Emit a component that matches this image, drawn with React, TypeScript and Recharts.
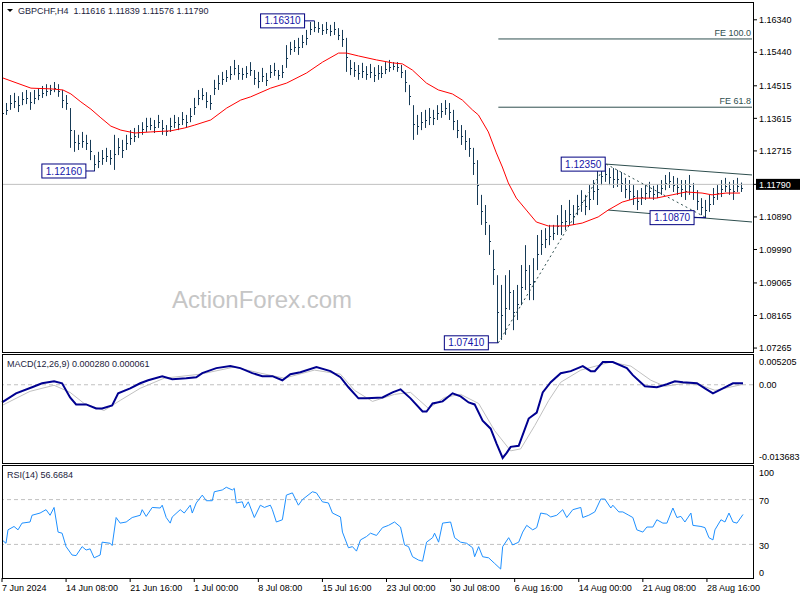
import React from "react";
import {
  Bar,
  ComposedChart,
  Line,
  ReferenceDot,
  ReferenceLine,
  XAxis,
  YAxis,
} from "recharts";

// H4 slots across the window (2px each); bars were read one per two slots
const SLOTS = 376;

const DATE_LABELS = [
  "7 Jun 2024", "14 Jun 08:00", "21 Jun 16:00", "1 Jul 00:00", "8 Jul 08:00", "15 Jul 16:00",
  "23 Jul 00:00", "30 Jul 08:00", "6 Aug 16:00", "14 Aug 00:00", "21 Aug 08:00", "28 Aug 16:00",
];

const BAR_HIGH = [
  1.1390, 1.1404, 1.1426, 1.1432, 1.1423, 1.1434, 1.1440, 1.1434, 1.1440, 1.1445,
  1.1451, 1.1456, 1.1454, 1.1462, 1.1456, 1.1440, 1.1426, 1.1390, 1.1329, 1.1316,
  1.1324, 1.1316, 1.1302, 1.1260, 1.1269, 1.1274, 1.1280, 1.1274, 1.1316, 1.1307,
  1.1302, 1.1316, 1.1329, 1.1335, 1.1343, 1.1351, 1.1363, 1.1363, 1.1357, 1.1371,
  1.1357, 1.1343, 1.1363, 1.1371, 1.1365, 1.1379, 1.1371, 1.1390, 1.1418, 1.1440,
  1.1445, 1.1434, 1.1426, 1.1468, 1.1481, 1.1490, 1.1495, 1.1506, 1.1523, 1.1509,
  1.1501, 1.1506, 1.1517, 1.1495, 1.1490, 1.1501, 1.1487, 1.1509, 1.1515, 1.1495,
  1.1509, 1.1564, 1.1573, 1.1578, 1.1584, 1.1592, 1.1606, 1.1628, 1.1631, 1.1628,
  1.1622, 1.1628, 1.1620, 1.1628, 1.1611, 1.1606, 1.1584, 1.1523, 1.1517, 1.1509,
  1.1515, 1.1506, 1.1512, 1.1503, 1.1509, 1.1506, 1.1517, 1.1523, 1.1517, 1.1517,
  1.1509, 1.1495, 1.1454, 1.1398, 1.1371, 1.1379, 1.1385, 1.1390, 1.1385, 1.1398,
  1.1404, 1.1412, 1.1404, 1.1385, 1.1357, 1.1343, 1.1329, 1.1307, 1.1280, 1.1246,
  1.1150, 1.1122, 1.1067, 1.0998, 1.0928, 1.0901, 1.0928, 1.0942, 1.0887, 1.0901,
  1.0956, 1.1011, 1.0956, 1.0975, 1.1039, 1.1053, 1.1058, 1.1067, 1.1067, 1.1094,
  1.1122, 1.1108, 1.1136, 1.1122, 1.1150, 1.1163, 1.1150, 1.1177, 1.1191, 1.1219,
  1.1230, 1.1235, 1.1224, 1.1224, 1.1219, 1.1213, 1.1197, 1.1191, 1.1177, 1.1163,
  1.1169, 1.1177, 1.1186, 1.1175, 1.1180, 1.1191, 1.1205, 1.1213, 1.1202, 1.1197,
  1.1191, 1.1191, 1.1205, 1.1183, 1.1163, 1.1141, 1.1136, 1.1150, 1.1169, 1.1177,
  1.1191, 1.1197, 1.1186, 1.1191, 1.1197, 1.1184,
];

const BAR_LOW = [
  1.1365, 1.1371, 1.1385, 1.1390, 1.1379, 1.1398, 1.1401, 1.1385, 1.1401, 1.1412,
  1.1418, 1.1423, 1.1426, 1.1434, 1.1421, 1.1390, 1.1385, 1.1280, 1.1269, 1.1274,
  1.1280, 1.1274, 1.1246, 1.1216, 1.1224, 1.1233, 1.1241, 1.1233, 1.1219, 1.1260,
  1.1252, 1.1274, 1.1288, 1.1296, 1.1307, 1.1316, 1.1324, 1.1329, 1.1321, 1.1335,
  1.1316, 1.1313, 1.1324, 1.1335, 1.1329, 1.1343, 1.1335, 1.1351, 1.1371, 1.1398,
  1.1412, 1.1390, 1.1385, 1.1426, 1.1440, 1.1454, 1.1462, 1.1468, 1.1481, 1.1468,
  1.1468, 1.1473, 1.1479, 1.1454, 1.1445, 1.1462, 1.1451, 1.1473, 1.1479, 1.1468,
  1.1473, 1.1501, 1.1537, 1.1545, 1.1537, 1.1556, 1.1564, 1.1592, 1.1600, 1.1598,
  1.1592, 1.1595, 1.1589, 1.1592, 1.1578, 1.1559, 1.1490, 1.1481, 1.1476, 1.1468,
  1.1473, 1.1468, 1.1473, 1.1462, 1.1468, 1.1473, 1.1484, 1.1490, 1.1495, 1.1490,
  1.1473, 1.1434, 1.1398, 1.1302, 1.1316, 1.1329, 1.1335, 1.1343, 1.1343, 1.1357,
  1.1363, 1.1371, 1.1357, 1.1329, 1.1307, 1.1288, 1.1274, 1.1255, 1.1205, 1.1122,
  1.1067, 1.1039, 1.0984, 1.0901, 1.0741, 1.0749, 1.0763, 1.0832, 1.0776, 1.0804,
  1.0845, 1.0887, 1.0859, 1.0859, 1.0942, 1.0984, 1.1003, 1.1011, 1.1025, 1.1039,
  1.1039, 1.1053, 1.1067, 1.1067, 1.1094, 1.1103, 1.1094, 1.1108, 1.1136, 1.1122,
  1.1177, 1.1186, 1.1177, 1.1169, 1.1172, 1.1158, 1.1141, 1.1136, 1.1122, 1.1108,
  1.1122, 1.1136, 1.1141, 1.1136, 1.1141, 1.1150, 1.1163, 1.1169, 1.1158, 1.1150,
  1.1144, 1.1136, 1.1150, 1.1136, 1.1108, 1.1094, 1.1087, 1.1103, 1.1122, 1.1136,
  1.1144, 1.1158, 1.1150, 1.1136, 1.1158, 1.1158,
];

// [slot, value]
const MA = [
  [0, 1.1473], [14, 1.1445], [24, 1.1443], [30, 1.1440], [34, 1.1429], [39, 1.1407],
  [44, 1.1387], [49, 1.1363], [54, 1.1340], [59, 1.1329], [66, 1.1321], [74, 1.1324],
  [84, 1.1327], [91, 1.1335], [96, 1.1343], [104, 1.1357], [112, 1.1390], [119, 1.1412],
  [124, 1.1421], [134, 1.1445], [142, 1.1459], [152, 1.1487], [160, 1.1517], [168, 1.1542],
  [172, 1.1542], [178, 1.1534], [187, 1.1523], [195, 1.1515], [200, 1.1512], [205, 1.1495],
  [212, 1.1459], [218, 1.1440], [225, 1.1429], [230, 1.1412], [235, 1.1385], [238, 1.1371],
  [243, 1.1324], [247, 1.1266], [250, 1.1227], [253, 1.1183], [257, 1.1141], [262, 1.1108],
  [267, 1.1075], [273, 1.1064], [282, 1.1064], [287, 1.1069], [290, 1.1072], [298, 1.1089],
  [303, 1.1108], [310, 1.1130], [317, 1.1141], [327, 1.1141], [335, 1.1150], [342, 1.1158],
  [350, 1.1155], [355, 1.1150], [362, 1.1155], [369, 1.1155],
];

const MACD_MAIN = [
  [0, -0.00309], [7, -0.0015], [15, -0.00044], [20, 0.00026], [26, 0.00062], [30, 0.00026],
  [34, -0.00221], [37, -0.00344], [42, -0.00344], [47, -0.00415], [50, -0.00415], [55, -0.00362],
  [58, -0.0015], [64, -0.00062], [69, 0.00026], [73, 0.00079], [80, 0.0015], [85, 0.00097],
  [92, 0.00115], [97, 0.00132], [100, 0.00203], [107, 0.00291], [114, 0.00326], [119, 0.00291],
  [125, 0.00203], [130, 0.0015], [135, 0.0015], [140, 0.00079], [144, 0.00185], [149, 0.0022],
  [157, 0.00309], [164, 0.00238], [169, 0.00132], [173, -0.00044], [178, -0.00238], [182, -0.00238],
  [190, -0.00221], [195, -0.00133], [199, -0.0008], [204, -0.00238], [210, -0.00468], [212, -0.00468],
  [215, -0.00327], [220, -0.00291], [225, -0.0015], [229, -0.00203], [233, -0.00309], [236, -0.00344],
  [240, -0.00627], [244, -0.00768], [247, -0.01033], [250, -0.0128], [252, -0.01192], [254, -0.01086],
  [258, -0.01068], [263, -0.00591], [267, -0.00486], [270, -0.00133], [274, 0.00044], [279, 0.00203],
  [284, 0.00238], [290, 0.00326], [294, 0.00238], [296, 0.00238], [300, 0.00397], [305, 0.00397],
  [312, 0.00291], [315, 0.00168], [321, -0.00027], [327, -0.00044], [332, 0.00009], [336, 0.00062],
  [340, 0.00044], [347, 0.00026], [351, -0.00062], [355, -0.0015], [360, -0.00062], [365, 0.00026],
  [370, 0.00028],
];

const MACD_SIGNAL = [
  [0, -0.00362], [14, -0.00115], [26, -0.00009], [34, -0.00133], [41, -0.00327], [51, -0.0045],
  [59, -0.00274], [69, -0.00062], [81, 0.00115], [99, 0.00185], [116, 0.00309], [129, 0.00203],
  [141, 0.00115], [156, 0.00256], [169, 0.00185], [176, -0.00097], [185, -0.00291], [196, -0.00168],
  [204, -0.00133], [213, -0.00415], [221, -0.00221], [229, -0.00168], [238, -0.00327], [246, -0.00803],
  [254, -0.01156], [259, -0.01121], [266, -0.00715], [273, -0.00274], [279, 0.00044], [289, 0.00256],
  [304, 0.00397], [314, 0.00326], [324, 0.00079], [331, -0.00027], [341, 0.00026], [349, -0.00009],
  [356, -0.00097], [370, 0.00006],
];

const RSI = [
  [0, 34], [2, 31], [3, 43], [6, 46], [8, 43], [10, 49], [14, 50], [15, 56], [19, 58], [22, 61],
  [24, 56], [26, 63], [28, 41], [30, 40], [32, 28], [35, 20.5], [37, 20], [40, 28], [42, 25], [44, 26],
  [46, 18], [49, 20.5], [50, 32], [54, 31], [55, 29], [57, 54], [59, 49], [62, 50], [65, 54], [69, 56],
  [70, 61], [72, 55], [75, 63], [79, 62.5], [80, 65], [82, 54], [84, 49], [85, 54.5], [89, 61], [91, 58],
  [94, 65], [95, 58], [97, 67], [100, 74], [102, 69], [105, 69], [106, 77], [110, 78.6], [112, 81], [115, 78.6],
  [116, 80], [117, 67], [120, 68], [121, 62.5], [123, 68], [126, 54], [129, 65], [131, 63], [134, 65], [135, 61],
  [137, 50], [140, 52], [142, 74], [145, 76], [148, 65], [150, 70], [155, 77], [157, 76], [160, 68], [163, 67],
  [165, 58], [169, 54.5], [170, 41], [173, 27], [175, 28], [177, 24], [179, 34], [182, 37], [184, 40], [187, 38],
  [190, 45], [193, 47], [196, 50], [199, 45.5], [201, 29.5], [203, 28], [205, 19], [208, 16], [210, 15], [212, 32],
  [215, 36], [216, 40], [218, 32], [220, 49], [224, 50], [226, 36], [229, 32], [232, 31], [235, 27], [236, 19],
  [238, 28], [240, 19], [243, 18], [246, 13], [249, 8], [250, 28], [253, 36], [255, 29.5], [258, 32], [260, 41],
  [262, 47], [265, 43], [267, 45], [269, 58], [272, 57], [274, 54.5], [277, 56], [280, 61], [282, 54], [285, 61],
  [289, 63], [290, 54], [293, 56], [296, 59], [299, 70.5], [301, 70.5], [304, 62.5], [305, 65], [308, 59], [310, 59],
  [313, 56], [315, 54], [317, 43], [320, 41], [322, 45.5], [325, 45.5], [327, 52], [330, 49], [332, 49], [335, 62.5],
  [337, 54], [339, 55], [341, 50], [344, 58], [345, 47], [349, 46], [351, 45], [353, 36], [355, 34], [356, 43],
  [359, 52], [361, 50], [363, 58], [365, 50], [367, 49], [370, 56.7],
];

const PRICE_TICKS = [
  1.07265, 1.08165, 1.09065, 1.0999, 1.1089, 1.1179, 1.12715, 1.13615, 1.14515, 1.1544, 1.1634,
];
const LAST_PRICE = 1.1179;
const MACD_TICKS = [-0.013683, 0, 0.005205];
const RSI_TICKS = [0, 30, 70, 100];

// swing tags [slot, price]
const TAGS = [[46, 1.1216], [156, 1.1631], [248, 1.0741], [302, 1.1235], [352, 1.1087]];
// fibonacci expansion A -> B -> C, projected levels
const FIB_A = [248, 1.0741];
const FIB_B = [302, 1.1235];
const FIB_C = [352, 1.1087];
const FE_LEVELS = [[1.1581, "FE 100.0"], [1.13923, "FE 61.8"]];
const CHANNEL_TOP = [[302, 1.1235], [375, 1.1205]];
const CHANNEL_BOTTOM = [[303, 1.1108], [375, 1.1075]];

const INK = "#163a56";
const FIB = "#2f4f4f";
const TAG_BLUE = "#000080";
const FONT = '"Liberation Sans", Arial, sans-serif';
const TAG_GAP = [9, 10, 10, 1, 12];

type Row = {
  i: number;
  bar?: [number, number];
  ma?: number;
  macd?: number;
  signal?: number;
  rsi?: number;
};

const rows: Row[] = Array.from({ length: SLOTS }, (_, i) => ({ i }));
BAR_HIGH.forEach((h, k) => {
  rows[2 * k].bar = [BAR_LOW[k], h];
});
const put = (pairs: number[][], key: keyof Row) =>
  pairs.forEach(([i, v]) => {
    (rows[i] as any)[key] = v;
  });
put(MA, "ma");
put(MACD_MAIN, "macd");
put(MACD_SIGNAL, "signal");
put(RSI, "rsi");

// thin stick with a one-pixel foot, like the terminal's bar style
const BarStick = (p: any) => {
  if (!p.payload || !p.payload.bar) return <g />;
  const x = Math.round(p.x);
  const h = Math.abs(p.height);
  return (
    <g>
      <rect x={x} y={p.y} width={1} height={h} fill={INK} />
      <rect x={x + 1} y={Math.round(p.y + h * 0.55)} width={1} height={1} fill={INK} />
    </g>
  );
};

function PriceTick(p: any) {
  const v = p.payload.value;
  if (Math.abs(v - LAST_PRICE) < 1e-9) {
    return (
      <g>
        <rect x={p.x - 3} y={p.y - 5.5} width={50} height={11} fill="#000" />
        <text x={p.x} y={p.y} dy="0.35em" fill="#fff" fontSize={9} fontFamily={FONT}>
          {v.toFixed(5)}
        </text>
      </g>
    );
  }
  return (
    <text x={p.x} y={p.y} dy="0.35em" fill="#000" fontSize={9} fontFamily={FONT}>
      {v.toFixed(5)}
    </text>
  );
}

function MacdTick(p: any) {
  const v = p.payload.value;
  const dy = v > 0 ? 7 : v < 0 ? -6 : 0;
  return (
    <text x={p.x} y={p.y + dy} dy="0.35em" fill="#000" fontSize={9} fontFamily={FONT}>
      {v === 0 ? "0.00" : v.toFixed(6)}
    </text>
  );
}

function RsiTick(p: any) {
  const v = p.payload.value;
  const dy = v === 100 ? 7 : v === 0 ? -5 : 1;
  return (
    <text x={p.x} y={p.y + dy} dy="0.35em" fill="#000" fontSize={9} fontFamily={FONT}>
      {v}
    </text>
  );
}

function DateTick(p: any) {
  return (
    <text x={p.x} y={p.y + 7} textAnchor="start" fill="#000" fontSize={9} fontFamily={FONT}>
      {DATE_LABELS[Math.round(p.payload.value / 32)]}
    </text>
  );
}

function Tag({ cx, cy, text, gap }: any) {
  const w = 44;
  const h = 14;
  const right = cx - gap;
  return (
    <g>
      <line x1={right} y1={cy} x2={cx} y2={cy} stroke={TAG_BLUE} />
      <rect x={right - w} y={cy - h / 2} width={w} height={h} fill="#fff" stroke={TAG_BLUE} />
      <text x={right - w / 2} y={cy} dy="0.36em" textAnchor="middle" fontSize={10} fill="#1414a8" fontFamily={FONT}>
        {text}
      </text>
    </g>
  );
}

export default function App() {
  return (
    <div style={{ position: "absolute", left: 0, top: 0, width: 800, height: 600, background: "#fff", overflow: "hidden" }}>
      <svg width={800} height={600} style={{ position: "absolute", left: 0, top: 0 }}>
        <text x={172} y={308} fontSize={24} fill="#c6c6c6" fontFamily={FONT}>
          ActionForex.com
        </text>
      </svg>

      <div style={{ position: "absolute", left: 0, top: 0 }}>
        <ComposedChart width={800} height={352} data={rows} margin={{ top: 3, right: 0, bottom: 0, left: 2 }}>
          <XAxis dataKey="i" hide />
          <YAxis
            orientation="right"
            width={47}
            type="number"
            domain={[1.07156, 1.16804]}
            allowDataOverflow
            ticks={PRICE_TICKS}
            interval={0}
            axisLine={false}
            tickLine={{ stroke: "#000" }}
            tickSize={4}
            tick={PriceTick}
          />
          <ReferenceLine y={LAST_PRICE} stroke="#c0c0c0" />
          {FE_LEVELS.map(([lvl]) => (
            <ReferenceLine
              key={"fe" + lvl}
              segment={[{ x: FIB_A[0], y: lvl as number }, { x: SLOTS - 1, y: lvl as number }]}
              stroke={FIB}
              ifOverflow="visible"
            />
          ))}
          <ReferenceLine
            segment={[{ x: FIB_A[0], y: FIB_A[1] }, { x: FIB_B[0], y: FIB_B[1] }]}
            stroke={FIB}
            strokeDasharray="2 3"
          />
          <ReferenceLine
            segment={[{ x: FIB_B[0], y: FIB_B[1] }, { x: FIB_C[0], y: FIB_C[1] }]}
            stroke={FIB}
            strokeDasharray="2 3"
          />
          <ReferenceLine
            segment={[{ x: CHANNEL_TOP[0][0], y: CHANNEL_TOP[0][1] }, { x: CHANNEL_TOP[1][0], y: CHANNEL_TOP[1][1] }]}
            stroke={FIB}
          />
          <ReferenceLine
            segment={[{ x: CHANNEL_BOTTOM[0][0], y: CHANNEL_BOTTOM[0][1] }, { x: CHANNEL_BOTTOM[1][0], y: CHANNEL_BOTTOM[1][1] }]}
            stroke={FIB}
          />
          <Bar dataKey="bar" barSize={2} shape={BarStick} isAnimationActive={false} />
          <Line dataKey="ma" stroke="#ff0000" strokeWidth={1} dot={false} connectNulls isAnimationActive={false} />
          {FE_LEVELS.map(([lvl, name]) => (
            <ReferenceDot
              key={"fel" + lvl}
              x={SLOTS - 1}
              y={lvl as number}
              r={0}
              shape={(p: any) => (
                <text x={p.cx - 1} y={p.cy - 3} textAnchor="end" fontSize={9} fill={FIB} fontFamily={FONT}>
                  {name}
                </text>
              )}
            />
          ))}
          {TAGS.map(([slot, price], n) => (
            <ReferenceDot
              key={"tag" + slot}
              x={slot}
              y={price}
              r={0}
              shape={(p: any) => <Tag cx={p.cx} cy={p.cy} gap={TAG_GAP[n]} text={price.toFixed(5)} />}
            />
          ))}
        </ComposedChart>
      </div>

      <div style={{ position: "absolute", left: 0, top: 354 }}>
        <ComposedChart width={800} height={109} data={rows} margin={{ top: 1, right: 0, bottom: 0, left: 2 }}>
          <XAxis dataKey="i" hide />
          <YAxis
            orientation="right"
            width={47}
            type="number"
            domain={[-0.013683, 0.005205]}
            allowDataOverflow
            ticks={MACD_TICKS}
            interval={0}
            axisLine={false}
            tickLine={false}
            tickSize={4}
            tick={MacdTick}
          />
          <ReferenceLine y={0} stroke="#c0c0c0" strokeDasharray="4 3" />
          <Line dataKey="signal" stroke="#c0c0c0" strokeWidth={1} dot={false} connectNulls isAnimationActive={false} />
          <Line dataKey="macd" stroke="#000090" strokeWidth={2} dot={false} connectNulls isAnimationActive={false} />
        </ComposedChart>
      </div>

      <div style={{ position: "absolute", left: 0, top: 465 }}>
        <ComposedChart width={800} height={135} data={rows} margin={{ top: 1, right: 0, bottom: 0, left: 2 }}>
          <XAxis
            dataKey="i"
            interval={31}
            height={22}
            axisLine={false}
            tickLine={{ stroke: "#000" }}
            tickSize={4}
            tick={DateTick}
          />
          <YAxis
            orientation="right"
            width={47}
            type="number"
            domain={[0, 100]}
            ticks={RSI_TICKS}
            interval={0}
            axisLine={false}
            tickLine={false}
            tickSize={4}
            tick={RsiTick}
          />
          <ReferenceLine y={70} stroke="#c0c0c0" strokeDasharray="4 3" />
          <ReferenceLine y={30} stroke="#c0c0c0" strokeDasharray="4 3" />
          <Line dataKey="rsi" stroke="#1e90ff" strokeWidth={1} dot={false} connectNulls isAnimationActive={false} />
        </ComposedChart>
      </div>

      <svg width={800} height={600} style={{ position: "absolute", left: 0, top: 0, pointerEvents: "none" }}>
        <rect x={2.5} y={2.5} width={751} height={350} fill="none" stroke="#000" />
        <rect x={2.5} y={354.5} width={751} height={109} fill="none" stroke="#000" />
        <rect x={2.5} y={465.5} width={751} height={113} fill="none" stroke="#000" />
        <polygon points="7,9 13,9 10,12" fill="#000" />
        <text x={18} y={14} fontSize={9} fill="#1c1c3c" fontFamily={FONT} style={{ whiteSpace: "pre" }}>
          {"GBPCHF,H4  1.11616 1.11839 1.11576 1.11790"}
        </text>
        <text x={7} y={367} fontSize={9} fill="#1c1c3c" fontFamily={FONT}>
          MACD(12,26,9) 0.000280 0.000061
        </text>
        <text x={7} y={478} fontSize={9} fill="#1c1c3c" fontFamily={FONT}>
          RSI(14) 56.6684
        </text>
      </svg>
    </div>
  );
}
